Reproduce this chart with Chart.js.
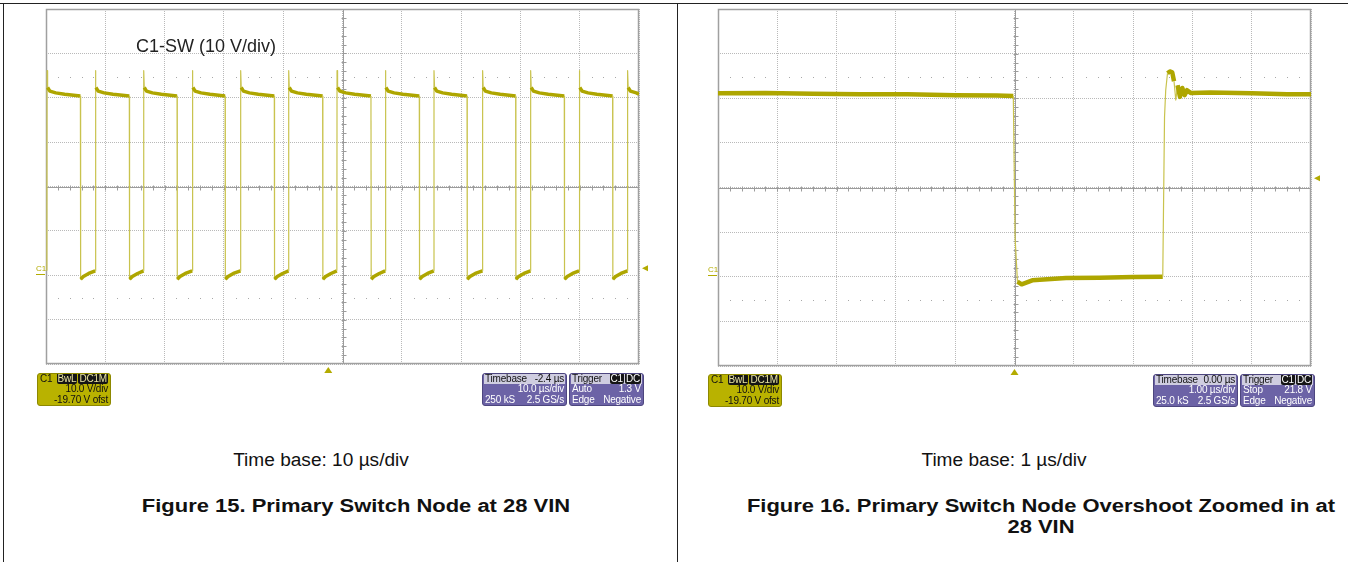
<!DOCTYPE html>
<html>
<head>
<meta charset="utf-8">
<script src="https://cdn.jsdelivr.net/npm/chart.js@4.4.1/dist/chart.umd.min.js"></script>
<style>
  body { margin: 0; width: 1348px; height: 562px; position: relative; background: #fff; overflow: hidden; font-family: "Liberation Sans", Arial, sans-serif; }
  canvas { position: absolute; top: 0; }
  .rule { position: absolute; background: #222; }
  .cap { position: absolute; text-align: center; color: #111; white-space: nowrap; }
  .tb { font-size: 18px; transform: scaleX(1.06); }
  .fig { font-size: 18px; font-weight: bold; line-height: 21px; transform: scaleX(1.22); }
  .lbl { position: absolute; font-size: 18px; color: #222; }
  .box { position: absolute; height: 33px; border-radius: 3px; box-sizing: border-box; font-size: 10px; letter-spacing: -0.2px; line-height: 10.4px; padding: 0 2px; overflow: hidden; white-space: nowrap; }
  .row { display: flex; justify-content: space-between; height: 10.4px; }
  .yel { background: #b9b200; border: 1px solid #8d8800; color: #111; }
  .pur { background: #6c63a6; border: 1px solid #4d467f; color: #fff; }
  .pur .hd { background: #cfcde0; color: #111; margin: 0 -1px; padding: 0 1px; }
  .bdg { background: #151515; color: #e8e4a0; padding: 0 1px; margin-left: 1px; border-radius: 2px; }
</style>
</head>
<body>
<div class="rule" style="left:0; top:3px; width:1348px; height:1px"></div>
<div class="rule" style="left:3px; top:3px; width:1px; height:559px"></div>
<div class="rule" style="left:677px; top:3px; width:1px; height:559px"></div>

<canvas id="scope15" width="677" height="380" style="left:0"></canvas>
<canvas id="scope16" width="670" height="380" style="left:678px"></canvas>

<div class="lbl" style="left:136px; top:36px">C1-SW (10 V/div)</div>

<!-- Figure 15 readouts -->
<div class="box yel" style="left:37px; top:373px; width:74px">
  <div class="row"><span>C1</span><span><span class="bdg">BwL</span><span class="bdg">DC1M</span></span></div>
  <div class="row"><span></span><span>10.0 V/div</span></div>
  <div class="row"><span></span><span>-19.70 V ofst</span></div>
</div>
<div class="box pur" style="left:482px; top:373px; width:85px">
  <div class="row hd"><span>Timebase</span><span>-2.4 µs</span></div>
  <div class="row"><span></span><span>10.0 µs/div</span></div>
  <div class="row"><span>250 kS</span><span>2.5 GS/s</span></div>
</div>
<div class="box pur" style="left:569px; top:373px; width:75px">
  <div class="row hd"><span>Trigger</span><span><span class="bdg" style="color:#fff">C1</span><span class="bdg" style="color:#fff">DC</span></span></div>
  <div class="row"><span>Auto</span><span>1.3 V</span></div>
  <div class="row"><span>Edge</span><span>Negative</span></div>
</div>

<!-- Figure 16 readouts -->
<div class="box yel" style="left:708px; top:374px; width:74px">
  <div class="row"><span>C1</span><span><span class="bdg">BwL</span><span class="bdg">DC1M</span></span></div>
  <div class="row"><span></span><span>10.0 V/div</span></div>
  <div class="row"><span></span><span>-19.70 V ofst</span></div>
</div>
<div class="box pur" style="left:1153px; top:374px; width:85px">
  <div class="row hd"><span>Timebase</span><span>0.00 µs</span></div>
  <div class="row"><span></span><span>1.00 µs/div</span></div>
  <div class="row"><span>25.0 kS</span><span>2.5 GS/s</span></div>
</div>
<div class="box pur" style="left:1240px; top:374px; width:75px">
  <div class="row hd"><span>Trigger</span><span><span class="bdg" style="color:#fff">C1</span><span class="bdg" style="color:#fff">DC</span></span></div>
  <div class="row"><span>Stop</span><span>21.8 V</span></div>
  <div class="row"><span>Edge</span><span>Negative</span></div>
</div>

<div class="cap tb" style="left:221px; width:200px; top:450px">Time base: 10 µs/div</div>
<div class="cap fig" style="left:100px; width:512px; top:496px">Figure 15. Primary Switch Node at 28 VIN</div>
<div class="cap tb" style="left:904px; width:200px; top:450px">Time base: 1 µs/div</div>
<div class="cap fig" style="left:740px; width:602px; top:496px">Figure 16. Primary Switch Node Overshoot Zoomed in at<br>28 VIN</div>

<script>
// ===== SCOPE SETTINGS (10 V/div, offset -19.70 V) =====
const voltCenter = 19.7
const voltPerDiv = 10

// ===== FIGURE 15: 10 us/div, trigger at 0 us, screen centre at +2.4 us =====
const swTimeCenter = 2.4
const swTimePerDiv = 10
const swRise = [-47.45, -39.3, -31.15, -22.95, -14.8, -6.7, 1.45, 9.6, 17.8, 26.0, 34.1, 42.3, 50.45]
const swFall = [-41.8, -33.55, -25.5, -17.4, -9.1, -0.95, 7.2, 15.35, 23.4, 31.6, 39.8, 47.95]
// shape of the high part after every rising edge (us after edge, V)
const swHighDt = [0.03, 0.12, 0.5, 1.5, 3.0]
const swHighV = [45.8, 42.0, 41.2, 40.8, 40.5]
const swHighEndV = 40.1
// shape of the low part after every falling edge
const swLowDt = [0.04, 0.5, 1.4]
const swLowV = [-1.2, -0.6, 0.1]
const swLowEndV = 0.7
const swTrigLevel = 1.3

// ===== FIGURE 16: 1 us/div, trigger at screen centre =====
const zmTimeCenter = 0
const zmTimePerDiv = 1
const zmTime = [-5.0, -4.2, -3.4, -2.6, -1.8, -1.0, -0.3, -0.02, 0.01, 0.05, 0.12, 0.3, 0.87, 1.43, 2.0, 2.5,
  2.53, 2.55, 2.58, 2.62, 2.66, 2.69, 2.72, 2.75, 2.79, 2.83, 2.87, 2.91, 2.97, 3.3, 4.0, 4.6, 5.0]
const zmVolt = [40.8, 40.9, 40.7, 40.6, 40.6, 40.4, 40.3, 40.2, 8.5, -1.4, -2.0, -1.1, -0.6, -0.5, -0.35, -0.3,
  35.5, 41.5, 45.3, 45.7, 45.5, 43.5, 39.3, 42.6, 40.0, 42.0, 40.4, 41.5, 40.9, 41.0, 40.8, 40.6, 40.6]
const zmTrigLevel = 21.8

// Rangkai titik trace switch node dari daftar edge
function buildSwitchTrace() {
  const xMin = swTimeCenter - 5 * swTimePerDiv
  const xMax = swTimeCenter + 5 * swTimePerDiv
  const pts = [{ x: xMin, y: swLowEndV }]
  swRise.forEach((r, i) => {
    const f = i < swFall.length ? swFall[i] : xMax
    pts.push({ x: r, y: swLowEndV })
    swHighDt.forEach((dt, k) => {
      if (r + dt < f) pts.push({ x: r + dt, y: swHighV[k] })
    })
    if (i < swFall.length) {
      pts.push({ x: f, y: swHighEndV })
      const next = swRise[i + 1] !== undefined ? swRise[i + 1] : xMax
      swLowDt.forEach((dt, k) => {
        if (f + dt < next) pts.push({ x: f + dt, y: swLowV[k] })
      })
      if (swRise[i + 1] === undefined) pts.push({ x: xMax, y: swLowEndV })
    } else {
      pts.push({ x: xMax, y: swHighV[swHighV.length - 1] })
    }
  })
  return pts
}

// ===== PLUGIN: tampilan layar osiloskop =====
const scopeDecor = {
  id: 'scopeDecor',
  beforeDatasetsDraw(chart, args, opts) {
    const { ctx, chartArea: a, scales: { x, y } } = chart
    const cx = Math.round(x.getPixelForValue(opts.xCenter)) + 0.5
    const cy = Math.round(y.getPixelForValue(voltCenter)) + 0.5
    const dw = (a.right - a.left) / 10
    const dh = (a.bottom - a.top) / 8
    ctx.save()
    ctx.strokeStyle = '#9c9c9c'
    ctx.lineWidth = 1
    ctx.beginPath()
    ctx.moveTo(a.left, cy); ctx.lineTo(a.right, cy)
    ctx.moveTo(cx, a.top); ctx.lineTo(cx, a.bottom)
    for (let i = 1; i < 50; i++) {
      const px = Math.round(a.left + i * dw / 5) + 0.5
      ctx.moveTo(px, cy - 2); ctx.lineTo(px, cy + 3)
    }
    for (let j = 1; j < 40; j++) {
      const py = Math.round(a.top + j * dh / 5) + 0.5
      ctx.moveTo(cx - 2, py); ctx.lineTo(cx + 3, py)
    }
    ctx.stroke()
    // dotted marks at +/- 2.5 div
    ctx.fillStyle = '#a8a8a8'
    ;[2.5, -2.5].forEach(d => {
      const py = Math.round(cy - d * dh)
      for (let i = 1; i < 50; i++) {
        if (i % 5 === 0) continue
        const px = Math.round(a.left + i * dw / 5)
        ctx.fillRect(px, py, 1, 1)
      }
    })
    // frame
    ctx.strokeStyle = '#a0a0a0'
    ctx.lineWidth = 1.5
    ctx.strokeRect(a.left + 0.5, a.top + 0.5, a.right - a.left - 1, a.bottom - a.top - 1)
    ctx.restore()
  },
  afterDatasetsDraw(chart, args, opts) {
    const { ctx, chartArea: a, scales: { x, y } } = chart
    const gy = Math.round(y.getPixelForValue(0))
    const ty = y.getPixelForValue(opts.trigLevel)
    const tx = x.getPixelForValue(0)
    ctx.save()
    ctx.fillStyle = '#b3ab00'
    ctx.strokeStyle = '#b3ab00'
    // ground marker "C1"
    ctx.font = '8px "Liberation Sans", Arial'
    ctx.textBaseline = 'bottom'
    ctx.fillText('C1', a.left - 10, gy - 1)
    ctx.fillRect(a.left - 10, gy, 9, 1)
    // trigger level marker (right)
    ctx.beginPath()
    ctx.moveTo(a.right + 3, ty)
    ctx.lineTo(a.right + 9, ty - 3)
    ctx.lineTo(a.right + 9, ty + 3)
    ctx.closePath()
    ctx.fill()
    // trigger time marker (bottom)
    ctx.beginPath()
    ctx.moveTo(tx, a.bottom + 3)
    ctx.lineTo(tx - 4, a.bottom + 9)
    ctx.lineTo(tx + 4, a.bottom + 9)
    ctx.closePath()
    ctx.fill()
    ctx.restore()
  }
}

function makeScope(canvasId, points, tCenter, tPerDiv, trigLevel, padding, bandWidth) {
  const ctx = document.getElementById(canvasId).getContext('2d')
  const steep = c => Math.abs(c.p1.parsed.y - c.p0.parsed.y) > 3

  return new Chart(ctx, {
    type: 'scatter',
    data: {
      datasets: [{
        label: 'C1-SW',
        data: points,
        showLine: true,
        pointRadius: 0,
        borderColor: '#aea600',
        borderWidth: bandWidth,
        borderJoinStyle: 'round',
        segment: {
          borderWidth: c => steep(c) ? 1.2 : bandWidth,
          borderColor: c => steep(c) ? '#c9c34e' : '#aea600'
        }
      }]
    },
    options: {
      responsive: false,
      animation: false,
      layout: { padding: padding },
      plugins: {
        legend: { display: false },
        tooltip: { enabled: false },
        scopeDecor: { xCenter: tCenter, trigLevel: trigLevel }
      },
      scales: {
        x: {
          type: 'linear',
          min: tCenter - 5 * tPerDiv,
          max: tCenter + 5 * tPerDiv,
          afterBuildTicks: s => { s.ticks = Array.from({ length: 11 }, (_, k) => ({ value: s.min + k * tPerDiv })) },
          afterFit: s => { s.height = 0 },
          ticks: { display: false },
          grid: { color: '#b9b9b9', drawTicks: false },
          border: { display: false, dash: [1, 1] }
        },
        y: {
          type: 'linear',
          min: voltCenter - 4 * voltPerDiv,
          max: voltCenter + 4 * voltPerDiv,
          afterBuildTicks: s => { s.ticks = Array.from({ length: 9 }, (_, k) => ({ value: s.min + k * voltPerDiv })) },
          afterFit: s => { s.width = 0 },
          ticks: { display: false },
          grid: { color: '#b9b9b9', drawTicks: false },
          border: { display: false, dash: [1, 1] }
        }
      }
    },
    plugins: [scopeDecor]
  })
}

const zmPoints = zmTime.map((t, i) => ({ x: t, y: zmVolt[i] }))

makeScope('scope15', buildSwitchTrace(), swTimeCenter, swTimePerDiv, swTrigLevel,
  { left: 46, top: 9, right: 38, bottom: 16 }, 3.5)
makeScope('scope16', zmPoints, zmTimeCenter, zmTimePerDiv, zmTrigLevel,
  { left: 40, top: 9, right: 37, bottom: 14 }, 4.5)
</script>
</body>
</html>
